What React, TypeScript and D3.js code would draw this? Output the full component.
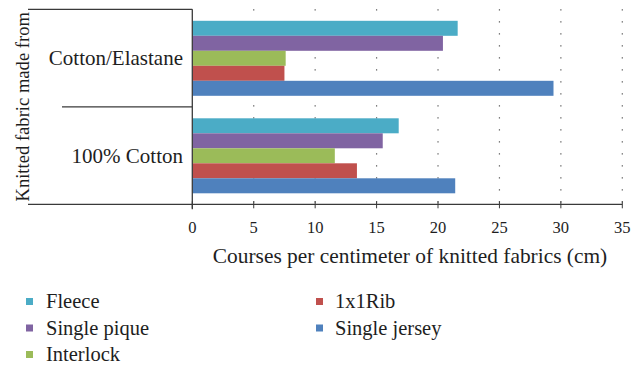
import React from "react";
import * as d3 from "d3";

const groups = ["Cotton/Elastane", "100% Cotton"];
const seriesNames = ["Fleece", "Single pique", "Interlock", "1x1Rib", "Single jersey"];
const seriesColors = ["#4BACC6", "#8064A2", "#9BBB59", "#C0504D", "#4F81BD"];
// values per series, in the same order as groups
const fleece = [21.6, 16.8];
const singlePique = [20.4, 15.5];
const interlock = [7.6, 11.6];
const rib1x1 = [7.5, 13.4];
const singleJersey = [29.4, 21.4];
const xTicks = [0, 5, 10, 15, 20, 25, 30, 35];

const seriesValues = [fleece, singlePique, interlock, rib1x1, singleJersey];

const W = 634;
const H = 366;
const FONT = '"Liberation Serif", serif';
const ts = (size: number) => ({ fontFamily: FONT, fontSize: size });

export default function App() {
  const left = 192.3;
  const right = 622.3;
  const top = 9.3;
  const bottom = 204.3;

  const x = d3.scaleLinear().domain([0, 35]).range([left, right]);
  const y = d3.scaleBand<string>().domain(groups).range([top, bottom]).padding(0);
  const bw = y.bandwidth();
  const inner = d3.scaleBand<string>().domain(seriesNames).range([11.5, bw - 11]).padding(0);

  const axisColor = "#3a3a3a";
  const textColor = "#1e1e1e";

  const legendRows = [
    { name: "Fleece", col: 0, row: 0 },
    { name: "Single pique", col: 0, row: 1 },
    { name: "Interlock", col: 0, row: 2 },
    { name: "1x1Rib", col: 1, row: 0 },
    { name: "Single jersey", col: 1, row: 1 },
  ];

  return (
    <svg width={W} height={H} style={{ position: "absolute", left: 0, top: 0, background: "#fff" }}>
      <rect width={W} height={H} fill="#fff" />
      {/* dotted vertical gridlines */}
      {xTicks.slice(1).map((t) => (
        <line
          key={"g" + t}
          x1={x(t)}
          x2={x(t)}
          y1={top}
          y2={bottom}
          stroke="#555"
          strokeWidth={1.2}
          strokeDasharray="1.2 10.8"
        />
      ))}
      {/* bars */}
      {groups.map((g, gi) =>
        seriesNames.map((s, si) => (
          <rect
            key={g + s}
            x={x(0)}
            y={(y(g) as number) + (inner(s) as number)}
            width={x(seriesValues[si][gi]) - x(0)}
            height={inner.bandwidth()}
            fill={seriesColors[si]}
          />
        ))
      )}
      {/* category frame lines */}
      <line x1={28} x2={left} y1={top} y2={top} stroke={axisColor} strokeWidth={1.3} />
      <line x1={62} x2={left} y1={top + bw} y2={top + bw} stroke={axisColor} strokeWidth={1.3} />
      <line x1={left} x2={left} y1={top} y2={bottom + 5} stroke={axisColor} strokeWidth={1.3} />
      <line x1={28} x2={right} y1={bottom} y2={bottom} stroke={axisColor} strokeWidth={1.3} />
      {/* x ticks */}
      {xTicks.map((t) => (
        <line key={"t" + t} x1={x(t)} x2={x(t)} y1={bottom - 3} y2={bottom + 4} stroke={axisColor} strokeWidth={1} />
      ))}
      {xTicks.map((t) => (
        <text key={"tl" + t} x={x(t)} y={232.5} textAnchor="middle" fill={textColor} style={ts(16.5)}>
          {t}
        </text>
      ))}
      {/* category labels */}
      {groups.map((g) => (
        <text
          key={"c" + g}
          x={183}
          y={(y(g) as number) + bw / 2 + 7}
          textAnchor="end"
          fill={textColor}
          style={ts(21)}
        >
          {g}
        </text>
      ))}
      {/* axis titles */}
      <text x={410} y={262.5} textAnchor="middle" fill={textColor} style={ts(21.4)}>
        Courses per centimeter of knitted fabrics (cm)
      </text>
      <text
        transform={`translate(29, ${(top + bottom) / 2}) rotate(-90)`}
        textAnchor="middle"
        fill={textColor}
        style={ts(18.6)}
      >
        Knitted fabric made from
      </text>
      {/* legend */}
      {legendRows.map((r) => {
        const si = seriesNames.indexOf(r.name);
        const sx = r.col === 0 ? 26 : 316;
        const by = 308 + r.row * 26.5;
        return (
          <rect key={"ls" + r.name} x={sx} y={by - 10} width={7} height={7} fill={seriesColors[si]} />
        );
      })}
      {legendRows.map((r) => {
        const sx = r.col === 0 ? 26 : 316;
        const by = 308 + r.row * 26.5;
        return (
          <text key={"lt" + r.name} x={sx + (r.col === 0 ? 20 : 19)} y={by} fill={textColor} style={ts(20.5)}>
            {r.name}
          </text>
        );
      })}
    </svg>
  );
}
